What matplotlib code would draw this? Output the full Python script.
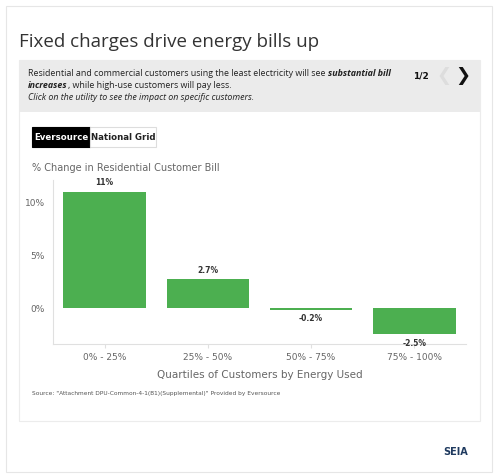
import matplotlib.pyplot as plt
import matplotlib.patches as mpatches

quartiles = ["0% - 25%", "25% - 50%", "50% - 75%", "75% - 100%"]
changes = [11.0, 2.7, -0.2, -2.5]
labels = ["11%", "2.7%", "-0.2%", "-2.5%"]
yticks = [0, 5, 10]

W, H = 500, 476
fig = plt.figure(figsize=(W / 100, H / 100), dpi=100)
fig.patch.set_facecolor("white")

def fx(px): return px / W
def fy(py): return 1 - py / H

# card borders
fig.add_artist(mpatches.Rectangle((fx(6), fy(472)), fx(486), (466) / H, transform=fig.transFigure,
                                  fill=False, edgecolor="#e6e6e6", lw=0.8))
fig.add_artist(mpatches.Rectangle((fx(19), fy(421)), fx(461), (421 - 60) / H, transform=fig.transFigure,
                                  fill=False, edgecolor="#ececec", lw=0.8))
# grey intro box
fig.add_artist(mpatches.Rectangle((fx(19), fy(112)), fx(461), 52 / H, transform=fig.transFigure,
                                  facecolor="#ebebeb", edgecolor="none"))

fig.text(fx(19), fy(42), "Fixed charges drive energy bills up", fontsize=13.5, color="#333333",
         va="center", family="Open Sans")

renderer = fig.canvas.get_renderer()

def run(px, py, parts):
    # lay out text pieces one after another on a line
    xpos = fx(px)
    for txt, kw in parts:
        t = fig.text(xpos, fy(py), txt, fontsize=6.4, color="#222222", va="center",
                     family="Open Sans", **kw)
        bb = t.get_window_extent(renderer)
        xpos = bb.x1 / (W)

bi = dict(weight="bold", style="italic")
run(28, 74, [("Residential and commercial customers using the least electricity will see ", {}),
             ("substantial bill", bi)])
run(28, 86, [("increases", bi), (", while high-use customers will pay less.", {})])
run(28, 98, [("Click on the utility to see the impact on specific customers.", dict(style="italic"))])

fig.text(fx(413), fy(76), "1/2", fontsize=6.5, weight="bold", va="center", color="#111111")
fig.text(fx(436), fy(76), "❮", fontsize=13, va="center", color="#dddddd", family="DejaVu Sans",
         weight="bold")
fig.text(fx(455), fy(76), "❯", fontsize=13, va="center", color="#111111", family="DejaVu Sans",
         weight="bold")

# tabs
fig.add_artist(mpatches.Rectangle((fx(32), fy(147)), fx(58), 20 / H, transform=fig.transFigure,
                                  facecolor="black", edgecolor="black", lw=0.8))
fig.add_artist(mpatches.Rectangle((fx(90), fy(147)), fx(66), 20 / H, transform=fig.transFigure,
                                  facecolor="white", edgecolor="#dddddd", lw=0.8))
fig.text(fx(61), fy(137), "Eversource", fontsize=6.2, weight="bold", color="white",
         ha="center", va="center")
fig.text(fx(123), fy(137), "National Grid", fontsize=6.2, weight="bold", color="#222222",
         ha="center", va="center")

fig.text(fx(32), fy(168), "% Change in Residential Customer Bill", fontsize=7, color="#666666", va="center")

ax = fig.add_axes([fx(53), fy(344), fx(466 - 53), (344 - 180) / H])
x = range(len(quartiles))
ax.bar(x, changes, width=0.8, color="#4caf50")
for i, (v, t) in enumerate(zip(changes, labels)):
    off = 0.4 if v >= 0 else -0.4
    ax.text(i, v + off, t, ha="center", va="bottom" if v >= 0 else "top",
            fontsize=5.5, weight="bold", color="#333333")
ax.set_ylim(-3.4, 12.1)
ax.set_xlim(-0.5, 3.5)
ax.set_yticks(yticks)
ax.set_yticklabels([f"{t}%" for t in yticks])
ax.set_xticks(list(x))
ax.set_xticklabels(quartiles)
ax.tick_params(axis="both", labelsize=6.5, colors="#666666", length=3, color="#e0e0e0")
ax.tick_params(axis="y", length=0, pad=6)
for s in ["top", "right"]:
    ax.spines[s].set_visible(False)
for s in ["left", "bottom"]:
    ax.spines[s].set_color("#e0e0e0")
ax.set_xlabel("Quartiles of Customers by Energy Used", fontsize=7.5, color="#666666", labelpad=6)

fig.text(fx(32), fy(393), "Source: \"Attachment DPU-Common-4-1(B1)(Supplemental)\" Provided by Eversource",
         fontsize=4.2, color="#555555", va="center")
fig.text(fx(443), fy(452), "SEIA", fontsize=7, weight="bold", color="#1f3a5f", va="center")

fig.savefig("out.png", dpi=100)
